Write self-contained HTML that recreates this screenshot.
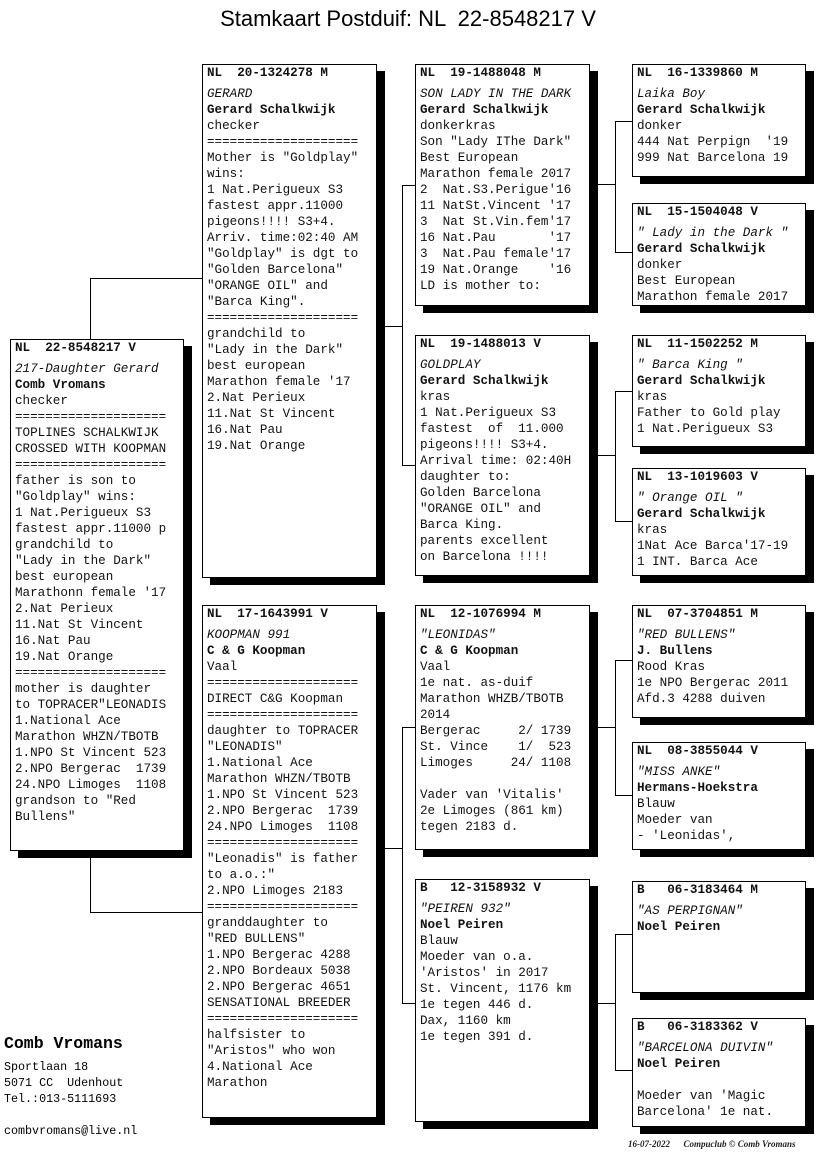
<!DOCTYPE html>
<html><head><meta charset="utf-8"><style>
body{margin:0;width:816px;height:1172px;background:#fff;position:relative;overflow:hidden;font-family:"Liberation Mono",monospace;}
.t{position:absolute;top:6px;left:0;width:816px;text-align:center;font-family:"Liberation Sans",sans-serif;font-size:22px;white-space:pre}
.b{position:absolute;background:#fff;border:1px solid #000;box-shadow:8px 7px 0 #000;box-sizing:border-box;padding:0 0 0 4px;font-size:12.6px;line-height:16px;white-space:pre;overflow:hidden;color:#111}
.b .h{font-weight:bold;margin-bottom:5px}
.b .n{font-style:italic}
.b .o{font-weight:bold}
svg{position:absolute;left:0;top:0}
.ad{position:absolute;left:4px;font-size:11.7px;line-height:16px;white-space:pre}
</style></head><body>
<div class="t">Stamkaart Postduif: NL  22-8548217 V</div>
<svg width="816" height="1172"><g stroke="#000" stroke-width="1" fill="none">
<path d="M90.5 339V278.5H202"/><path d="M90.5 858V912.5H202"/>
<path d="M376 326.5H402.5M415 185.5H402.5V465.5H415"/>
<path d="M376 848.5H402.5M415 727.5H402.5V1003.5H415"/>
<path d="M589 184.5H615.5M632 121.5H615.5V252.5H632"/>
<path d="M589 455.5H615.5M632 391.5H615.5V521.5H632"/>
<path d="M589 727.5H615.5M632 660.5H615.5V795.5H632"/>
<path d="M589 1003.5H615.5M632 934.5H615.5V1070.5H632"/>
</g></svg>

<div class="b" style="left:10px;top:339px;width:174px;height:512px"><div class="h">NL  22-8548217 V</div><div class="n">217-Daughter Gerard</div><div class="o">Comb Vromans</div>checker
====================
TOPLINES SCHALKWIJK
CROSSED WITH KOOPMAN
====================
father is son to
"Goldplay" wins:
1 Nat.Perigueux S3
fastest appr.11000 p
grandchild to
"Lady in the Dark"
best european
Marathonn female '17
2.Nat Perieux
11.Nat St Vincent
16.Nat Pau
19.Nat Orange
====================
mother is daughter
to TOPRACER"LEONADIS
1.National Ace
Marathon WHZN/TBOTB
1.NPO St Vincent 523
2.NPO Bergerac  1739
24.NPO Limoges  1108
grandson to "Red
Bullens"</div>

<div class="b" style="left:202px;top:64px;width:175px;height:514px"><div class="h">NL  20-1324278 M</div><div class="n">GERARD</div><div class="o">Gerard Schalkwijk</div>checker
====================
Mother is "Goldplay"
wins:
1 Nat.Perigueux S3
fastest appr.11000
pigeons!!!! S3+4.
Arriv. time:02:40 AM
"Goldplay" is dgt to
"Golden Barcelona"
"ORANGE OIL" and
"Barca King".
====================
grandchild to
"Lady in the Dark"
best european
Marathon female '17
2.Nat Perieux
11.Nat St Vincent
16.Nat Pau
19.Nat Orange</div>

<div class="b" style="left:202px;top:605px;width:175px;height:513px"><div class="h">NL  17-1643991 V</div><div class="n">KOOPMAN 991</div><div class="o">C &amp; G Koopman</div>Vaal
====================
DIRECT C&amp;G Koopman
====================
daughter to TOPRACER
"LEONADIS"
1.National Ace
Marathon WHZN/TBOTB
1.NPO St Vincent 523
2.NPO Bergerac  1739
24.NPO Limoges  1108
====================
"Leonadis" is father
to a.o.:"
2.NPO Limoges 2183
====================
granddaughter to
"RED BULLENS"
1.NPO Bergerac 4288
2.NPO Bordeaux 5038
2.NPO Bergerac 4651
SENSATIONAL BREEDER
====================
halfsister to
"Aristos" who won
4.National Ace
Marathon</div>

<div class="b" style="left:415px;top:64px;width:175px;height:242px"><div class="h">NL  19-1488048 M</div><div class="n">SON LADY IN THE DARK</div><div class="o">Gerard Schalkwijk</div>donkerkras
Son "Lady IThe Dark"
Best European
Marathon female 2017
2  Nat.S3.Perigue'16
11 NatSt.Vincent '17
3  Nat St.Vin.fem'17
16 Nat.Pau       '17
3  Nat.Pau female'17
19 Nat.Orange    '16
LD is mother to:</div>

<div class="b" style="left:415px;top:335px;width:175px;height:241px"><div class="h">NL  19-1488013 V</div><div class="n">GOLDPLAY</div><div class="o">Gerard Schalkwijk</div>kras
1 Nat.Perigueux S3
fastest  of  11.000
pigeons!!!! S3+4.
Arrival time: 02:40H
daughter to:
Golden Barcelona
"ORANGE OIL" and
Barca King.
parents excellent
on Barcelona !!!!</div>

<div class="b" style="left:415px;top:605px;width:175px;height:245px"><div class="h">NL  12-1076994 M</div><div class="n">"LEONIDAS"</div><div class="o">C &amp; G Koopman</div>Vaal
1e nat. as-duif
Marathon WHZB/TBOTB
2014
Bergerac     2/ 1739
St. Vince    1/  523
Limoges     24/ 1108

Vader van 'Vitalis'
2e Limoges (861 km)
tegen 2183 d.</div>

<div class="b" style="left:415px;top:879px;width:175px;height:243px"><div class="h">B   12-3158932 V</div><div class="n">"PEIREN 932"</div><div class="o">Noel Peiren</div>Blauw
Moeder van o.a.
'Aristos' in 2017
St. Vincent, 1176 km
1e tegen 446 d.
Dax, 1160 km
1e tegen 391 d.</div>

<div class="b" style="left:632px;top:64px;width:174px;height:113px"><div class="h">NL  16-1339860 M</div><div class="n">Laika Boy</div><div class="o">Gerard Schalkwijk</div>donker
444 Nat Perpign  '19
999 Nat Barcelona 19</div>

<div class="b" style="left:632px;top:203px;width:174px;height:103px"><div class="h">NL  15-1504048 V</div><div class="n">" Lady in the Dark "</div><div class="o">Gerard Schalkwijk</div>donker
Best European
Marathon female 2017</div>

<div class="b" style="left:632px;top:335px;width:174px;height:112px"><div class="h">NL  11-1502252 M</div><div class="n">" Barca King "</div><div class="o">Gerard Schalkwijk</div>kras
Father to Gold play
1 Nat.Perigueux S3</div>

<div class="b" style="left:632px;top:468px;width:174px;height:108px"><div class="h">NL  13-1019603 V</div><div class="n">" Orange OIL "</div><div class="o">Gerard Schalkwijk</div>kras
1Nat Ace Barca'17-19
1 INT. Barca Ace</div>

<div class="b" style="left:632px;top:605px;width:174px;height:113px"><div class="h">NL  07-3704851 M</div><div class="n">"RED BULLENS"</div><div class="o">J. Bullens</div>Rood Kras
1e NPO Bergerac 2011
Afd.3 4288 duiven</div>

<div class="b" style="left:632px;top:742px;width:174px;height:108px"><div class="h">NL  08-3855044 V</div><div class="n">"MISS ANKE"</div><div class="o">Hermans-Hoekstra</div>Blauw
Moeder van
- 'Leonidas',</div>

<div class="b" style="left:632px;top:881px;width:174px;height:112px"><div class="h">B   06-3183464 M</div><div class="n">"AS PERPIGNAN"</div><div class="o">Noel Peiren</div></div>

<div class="b" style="left:632px;top:1018px;width:174px;height:109px"><div class="h">B   06-3183362 V</div><div class="n">"BARCELONA DUIVIN"</div><div class="o">Noel Peiren</div>
Moeder van 'Magic
Barcelona' 1e nat.</div>

<div class="ad" style="top:1035px;font-size:16.5px;font-weight:bold;line-height:18px">Comb Vromans</div>
<div class="ad" style="top:1059px">Sportlaan 18
5071 CC  Udenhout
Tel.:013-5111693

combvromans@live.nl</div>
<div style="position:absolute;left:628px;top:1139px;width:188px;font-size:9px;line-height:10px;font-style:italic;white-space:pre;font-family:'Liberation Serif',serif;font-weight:bold;color:#222">16-07-2022      Compuclub © Comb Vromans</div>
</body></html>
